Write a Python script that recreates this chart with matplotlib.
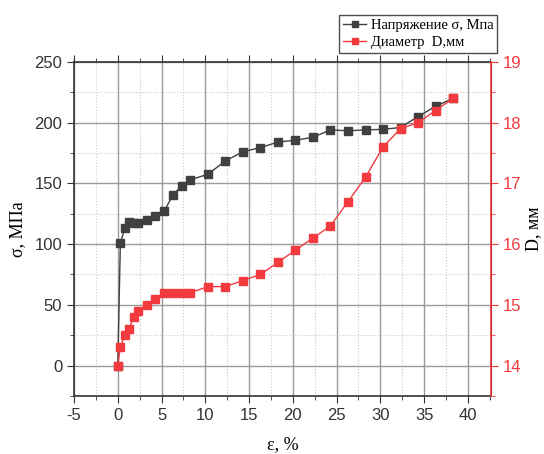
import numpy as np
import matplotlib.pyplot as plt
from matplotlib.ticker import MultipleLocator

# strain, %
eps = [0, 0.3, 0.8, 1.3, 1.8, 2.3, 3.3, 4.3, 5.3, 6.3, 7.3, 8.3, 10.3, 12.3,
       14.3, 16.3, 18.3, 20.3, 22.3, 24.3, 26.3, 28.3, 30.3, 32.3, 34.3, 36.3, 38.3]
# stress, MPa
sigma = [0, 101, 113, 118, 117, 117, 119.5, 123, 127, 140.5, 148, 153, 157.5, 168.5,
         176, 179.5, 184, 185.5, 188, 194, 193.3, 194, 194.5, 196, 205, 213.5, 220]
# diameter, mm
diam = [14.0, 14.3, 14.5, 14.6, 14.8, 14.9, 15.0, 15.1, 15.2, 15.2, 15.2, 15.2, 15.3, 15.3,
        15.4, 15.5, 15.7, 15.9, 16.1, 16.3, 16.7, 17.1, 17.6, 17.9, 18.0, 18.2, 18.4]

black = '#404040'
red = '#f23a3f'
serif = 'Liberation Serif'
plt.rcParams['font.family'] = ['Liberation Sans', 'DejaVu Sans']
plt.rcParams['axes.unicode_minus'] = False

fig = plt.figure(figsize=(5.44, 4.54), dpi=100)
ax = fig.add_axes([0.136, 0.128, 0.766, 0.7356])
ax2 = ax.twinx()

l1, = ax.plot(eps, sigma, '-s', color=black, ms=6, lw=1, zorder=3)
l2, = ax2.plot(eps, diam, '-s', color=red, ms=6, lw=1, zorder=3)

ax.set_xlim(-5, 42.6)
ax.set_ylim(-25, 250)
ax2.set_ylim(13.5, 19)

ax.xaxis.set_major_locator(MultipleLocator(5))
ax.xaxis.set_minor_locator(MultipleLocator(2.5))
ax.yaxis.set_major_locator(MultipleLocator(50))
ax.yaxis.set_minor_locator(MultipleLocator(25))
ax2.yaxis.set_major_locator(MultipleLocator(1))
ax2.yaxis.set_minor_locator(MultipleLocator(0.5))

ax.grid(which='major', color='#9a9a9a', lw=1, ls='-')
ax.grid(which='minor', color='#c8c8c8', lw=0.8, ls=':')
ax.set_axisbelow(True)

ax.tick_params(axis='both', which='both', labelsize=12, labelcolor='#333333', color='#333333')
ax.tick_params(axis='x', which='major', direction='out', length=5, top=True)
ax.tick_params(axis='x', which='minor', direction='out', length=3, top=True)
ax.tick_params(axis='y', which='major', direction='out', length=5)
ax.tick_params(axis='y', which='minor', direction='out', length=3)
ax2.tick_params(axis='y', which='both', colors=red, labelsize=12)
ax2.tick_params(axis='y', which='major', length=5)
ax2.tick_params(axis='y', which='minor', length=3)

for s in ['left', 'bottom', 'top']:
    ax.spines[s].set_color('#333333')
    ax.spines[s].set_linewidth(1.2)
ax2.spines['right'].set_color(red)
ax2.spines['right'].set_linewidth(1.2)
for s in ['left', 'bottom', 'top']:
    ax2.spines[s].set_visible(False)

ax.set_xlabel('ε, %', family=serif, fontsize=13, labelpad=10)
ax.set_ylabel('σ, МПа', family=serif, fontsize=13, labelpad=6)
ax2.set_ylabel('D, мм', family=serif, fontsize=13, labelpad=3)

leg = fig.legend([l1, l2], ['Напряжение σ, Мпа', 'Диаметр  D,мм'],
                 loc='upper left', bbox_to_anchor=(332 / 544, 1 - 8 / 454),
                 prop={'family': serif, 'size': 10.5}, frameon=True, fancybox=False,
                 edgecolor='#222222', borderpad=0.25, labelspacing=0.25,
                 handlelength=1.6, handletextpad=0.3, markerscale=0.8)
leg.get_frame().set_linewidth(1)

fig.savefig('out.png', dpi=100)
